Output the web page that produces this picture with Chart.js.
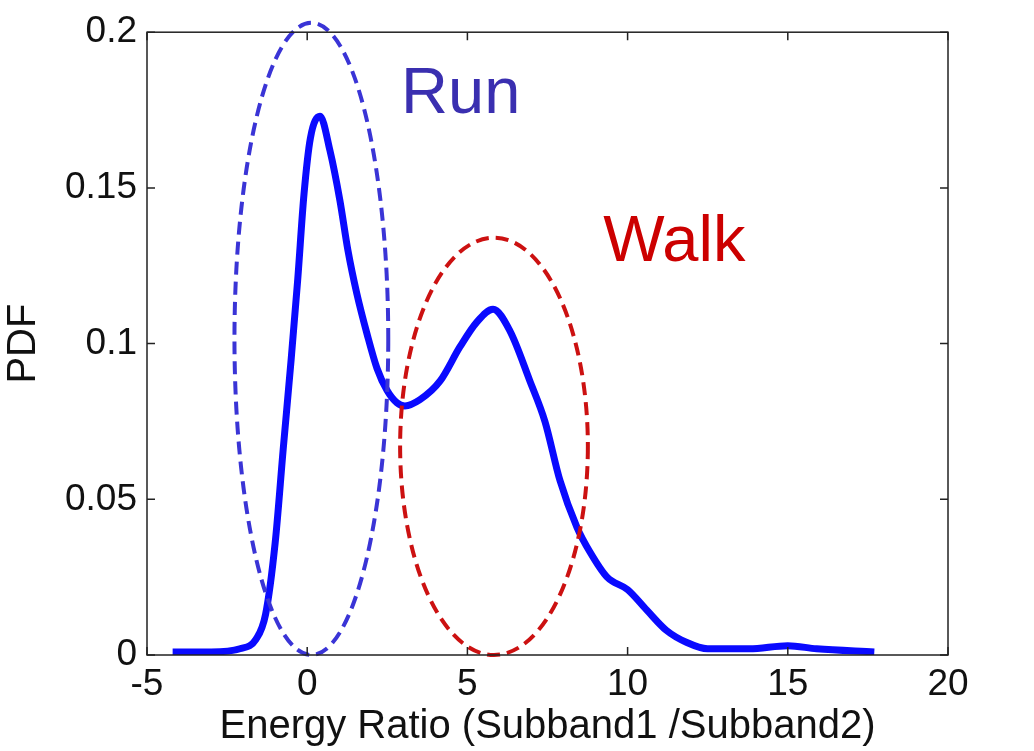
<!DOCTYPE html>
<html>
<head>
<meta charset="utf-8">
<script src="https://cdn.jsdelivr.net/npm/chart.js@4/dist/chart.umd.min.js"></script>
<style>
  html, body { margin: 0; padding: 0; background: #fff; }
  #wrap { width: 1034px; height: 751px; }
</style>
</head>
<body>
<div id="wrap"><canvas id="pdfChart"></canvas></div>
<script>
// PDF curve
const ratioX = [-4.2, -3.0, -2.1, -1.6, -1.3, -1.0, -0.75, -0.5, -0.3, -0.1, 0.1, 0.4, 0.71, 1.02, 1.27, 1.55, 1.87, 2.18, 2.49, 2.8, 3.05, 3.52, 4.15, 4.77, 5.3, 5.8, 6.33, 6.95, 7.42, 7.89, 8.42, 8.83, 9.36, 10.0, 10.6, 11.2, 11.85, 12.5, 13.8, 15.0, 15.9, 17.7];
const pdfY   = [0.001, 0.001, 0.002, 0.005, 0.013, 0.036, 0.066, 0.095, 0.12, 0.148, 0.166, 0.173, 0.162, 0.146, 0.130, 0.116, 0.103, 0.092, 0.085, 0.081, 0.080, 0.082, 0.088, 0.099, 0.107, 0.111, 0.104, 0.088, 0.075, 0.056, 0.041, 0.033, 0.025, 0.021, 0.0144, 0.008, 0.004, 0.002, 0.002, 0.003, 0.002, 0.001];

// axis ticks
const xTicks = [-5, 0, 5, 10, 15, 20];
const yTicks = [0, 0.05, 0.1, 0.15, 0.2];

// dashed ellipses (centre / half widths in data units) and their labels
const ellipseNames = ['Run', 'Walk'];
const ellipseCx = [0.13, 5.83];
const ellipseCy = [0.1015, 0.067];
const ellipseRx = [2.4, 2.93];
const ellipseRy = [0.1015, 0.067];
const labelX = [4.79, 11.46];
const labelY = [0.1741, 0.1264];
const ellipseColors = ['#3a34d6', '#cc1111'];
const labelColors = ['#3a2fb0', '#cc0000'];

const pts = ratioX.map((x, i) => ({ x: x, y: pdfY[i] }));

// frame, inward ticks, ellipses and labels
const framePlugin = {
    id: 'frame',
    afterDatasetsDraw(chart) {
        const { ctx, chartArea: a, scales: { x, y } } = chart;
        ctx.save();
        // ellipses
        ellipseNames.forEach((name, i) => {
            const cx = x.getPixelForValue(ellipseCx[i]);
            const cy = y.getPixelForValue(ellipseCy[i]);
            const rx = Math.abs(x.getPixelForValue(ellipseCx[i] + ellipseRx[i]) - cx);
            const ry = Math.abs(y.getPixelForValue(ellipseCy[i] + ellipseRy[i]) - cy);
            ctx.beginPath();
            ctx.setLineDash([13, 7]);
            ctx.lineWidth = 4;
            ctx.strokeStyle = ellipseColors[i];
            ctx.ellipse(cx, cy, rx, ry, 0, 0, Math.PI * 2);
            ctx.stroke();
            ctx.setLineDash([]);
            ctx.fillStyle = labelColors[i];
            ctx.font = '65px "Liberation Sans", Arial, sans-serif';
            ctx.textAlign = 'center';
            ctx.textBaseline = 'alphabetic';
            ctx.fillText(name, x.getPixelForValue(labelX[i]), y.getPixelForValue(labelY[i]));
        });
        // box
        ctx.strokeStyle = '#222';
        ctx.lineWidth = 1.5;
        ctx.strokeRect(a.left, a.top, a.right - a.left, a.bottom - a.top);
        // inward ticks on all sides
        ctx.beginPath();
        xTicks.forEach(v => {
            const px = x.getPixelForValue(v);
            ctx.moveTo(px, a.bottom); ctx.lineTo(px, a.bottom - 8);
            ctx.moveTo(px, a.top); ctx.lineTo(px, a.top + 8);
        });
        yTicks.forEach(v => {
            const py = y.getPixelForValue(v);
            ctx.moveTo(a.left, py); ctx.lineTo(a.left + 8, py);
            ctx.moveTo(a.right, py); ctx.lineTo(a.right - 8, py);
        });
        ctx.stroke();
        ctx.restore();
    }
};

const tickFont = { family: '"Liberation Sans", Arial, sans-serif', size: 37 };
const titleFont = { family: '"Liberation Sans", Arial, sans-serif', size: 40 };

new Chart(document.getElementById('pdfChart'), {
    type: 'line',
    data: {
        datasets: [{
            data: pts,
            borderColor: '#0a0aff',
            borderWidth: 7,
            pointRadius: 0,
            cubicInterpolationMode: 'monotone',
            fill: false
        }]
    },
    options: {
        responsive: true,
        maintainAspectRatio: false,
        animation: false,
        layout: { padding: { left: 0, top: 30, right: 86, bottom: 0 } },
        plugins: { legend: { display: false }, tooltip: { enabled: false } },
        scales: {
            x: {
                type: 'linear',
                min: -5, max: 20,
                afterBuildTicks: s => { s.ticks = xTicks.map(v => ({ value: v })); },
                afterFit: s => { s.height = 96; },
                grid: { display: false, drawTicks: false },
                border: { display: false },
                ticks: { color: '#111', font: tickFont, padding: 8, maxRotation: 0 },
                title: {
                    display: true,
                    text: 'Energy Ratio (Subband1 /Subband2)',
                    color: '#111',
                    font: titleFont,
                    padding: { top: 0, bottom: 0 }
                }
            },
            y: {
                min: 0, max: 0.2,
                afterBuildTicks: s => { s.ticks = yTicks.map(v => ({ value: v })); },
                afterFit: s => { s.width = 147; },
                grid: { display: false, drawTicks: false },
                border: { display: false },
                ticks: { color: '#111', font: tickFont, padding: 10, callback: v => String(v) },
                title: {
                    display: true,
                    text: 'PDF',
                    color: '#111',
                    font: titleFont,
                    padding: { top: 0, bottom: 0 }
                }
            }
        }
    },
    plugins: [framePlugin]
});
</script>
</body>
</html>
